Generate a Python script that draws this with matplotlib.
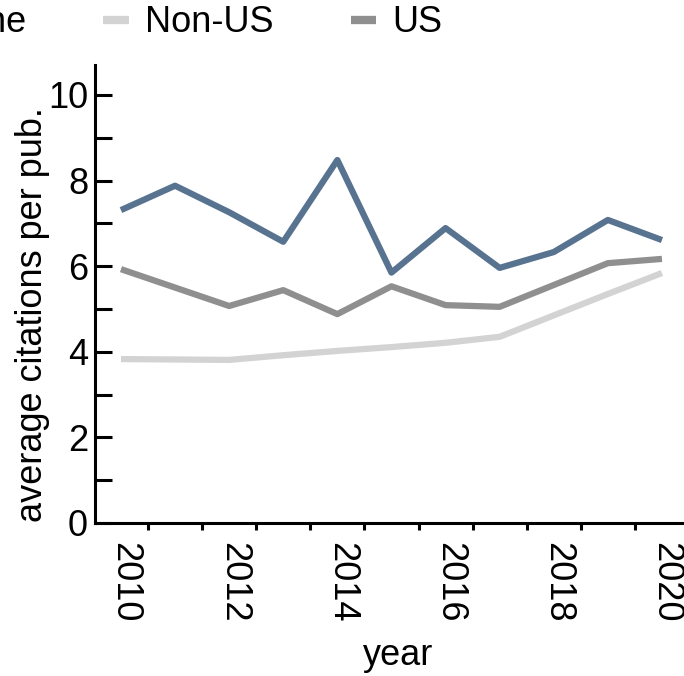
import matplotlib
matplotlib.use("Agg")
import matplotlib.pyplot as plt
import matplotlib.transforms as mtransforms

plt.rcParams['font.family'] = ['Liberation Sans', 'DejaVu Sans']
plt.rcParams['font.size'] = 26

years = [2010, 2011, 2012, 2013, 2014, 2015, 2016, 2017, 2018, 2019, 2020]
baseline = [7.31, 7.88, 7.26, 6.57, 8.48, 5.85, 6.89, 5.96, 6.33, 7.08, 6.61]
non_us = [3.83, 3.82, 3.81, 3.92, 4.02, 4.11, 4.21, 4.35, 4.85, 5.35, 5.84]
us = [5.93, 5.50, 5.07, 5.44, 4.88, 5.53, 5.09, 5.05, 5.56, 6.07, 6.17]

series_names = ["Baseline", "Non-US", "US"]
series_colors = ["#587390", "#d3d3d3", "#8f8f8f"]
tick_years = [2010, 2012, 2014, 2016, 2018, 2020]
y_ticks = [0, 2, 4, 6, 8, 10]

fig = plt.figure(figsize=(6.84, 6.76), dpi=100)
ax = fig.add_axes([95 / 684, 1 - 523 / 676, 594 / 684, 458 / 676])

for vals, name, col in zip([baseline, non_us, us], series_names, series_colors):
    ax.plot(years, vals, color=col, lw=4.5, label=name, solid_capstyle='butt')

ax.set_xlim(2009.52, 2020.5)
ax.set_ylim(0, 10.7)

ax.spines['top'].set_visible(False)
ax.spines['right'].set_visible(False)
for s in ['left', 'bottom']:
    ax.spines[s].set_linewidth(2.2)

ax.set_yticks(y_ticks)
ax.set_yticks(range(0, 11), minor=True)
ax.tick_params(axis='y', which='both', direction='in', length=12, width=2.2, pad=5)

ax.set_xticks(tick_years)
ax.set_xticklabels([str(y) for y in tick_years], rotation=-90)
ax.set_xticks([y + 0.5 for y in range(2010, 2020)], minor=True)
ax.tick_params(axis='x', which='major', length=0, pad=14)
ax.tick_params(axis='x', which='minor', direction='out', length=5, width=2.2)
offset = mtransforms.ScaledTranslation(4 / 100, 0, fig.dpi_scale_trans)
for lab in ax.get_xticklabels():
    lab.set_transform(lab.get_transform() + offset)

ax.set_ylabel("average citations per pub.")
ax.yaxis.set_label_coords(-0.075, 0.456)
ax.set_xlabel("year")
ax.xaxis.set_label_coords(0.51, -0.252)

leg = fig.legend(loc='center left', bbox_to_anchor=(-154 / 684, 1 - 23 / 676),
                 ncol=3, frameon=False, borderpad=0, borderaxespad=0,
                 handlelength=0.7, handletextpad=0.45, columnspacing=2.15)
for ln in leg.get_lines():
    ln.set_linewidth(6)

fig.savefig("out.png", dpi=100)
